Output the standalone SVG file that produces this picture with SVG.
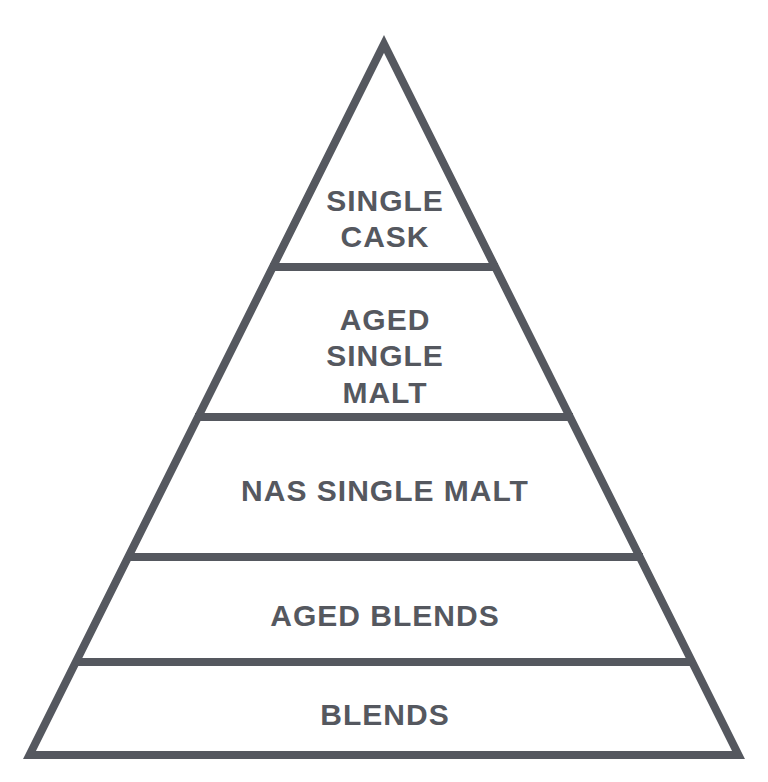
<svg xmlns="http://www.w3.org/2000/svg" width="768" height="782" viewBox="0 0 768 782">
<style>
.ln{fill:none;stroke:#55585f;stroke-width:8;stroke-linejoin:miter;stroke-miterlimit:10}
.t{font-family:"Liberation Sans",Arial,sans-serif;font-weight:bold;font-size:30px;fill:#55585f;text-anchor:middle;letter-spacing:1px}
</style>
<rect width="768" height="782" fill="#ffffff"/>
<g id="pyramid">
<polygon class="ln" points="384,44 738.5,755 29.5,755"/>
</g>
<g id="connectors">
<line class="ln" x1="270" y1="267" x2="498" y2="267"/>
<line class="ln" x1="195" y1="417" x2="573" y2="417"/>
<line class="ln" x1="126" y1="557" x2="643" y2="557"/>
<line class="ln" x1="74" y1="662" x2="694" y2="662"/>
</g>
<g id="single-cask">
<text class="t" x="385" y="211">SINGLE</text>
<text class="t" x="385" y="247">CASK</text>
</g>
<g id="aged-single-malt">
<text class="t" x="385" y="330">AGED</text>
<text class="t" x="385" y="366">SINGLE</text>
<text class="t" x="385" y="403">MALT</text>
</g>
<g id="nas-single-malt">
<text class="t" x="385" y="501">NAS SINGLE MALT</text>
</g>
<g id="aged-blends">
<text class="t" x="385" y="626">AGED BLENDS</text>
</g>
<g id="blends">
<text class="t" x="385" y="725">BLENDS</text>
</g>
</svg>
